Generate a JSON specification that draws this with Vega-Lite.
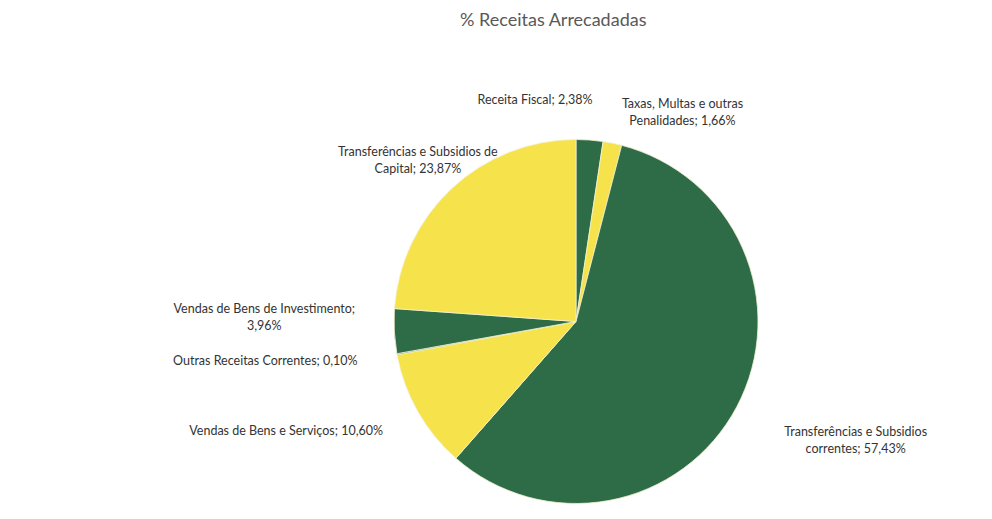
{
  "$schema": "https://vega.github.io/schema/vega-lite/v6.json",
  "autosize": {"type": "fit", "contains": "padding"},
  "width": 992,
  "height": 519,
  "padding": {"left": 160, "right": 0, "top": 66, "bottom": 0},
  "background": "#ffffff",
  "title": {
    "text": "% Receitas Arrecadadas",
    "font": "Lato",
    "fontSize": 18,
    "fontWeight": "normal",
    "color": "#595959",
    "anchor": "start",
    "dx": 300,
    "offset": 40
  },
  "data": {
    "values": [
      {"ordem": 1, "categoria": "Receita Fiscal", "valor": 2.38, "rotulo": "Receita Fiscal; 2,38%"},
      {"ordem": 2, "categoria": "Taxas, Multas e outras Penalidades", "valor": 1.66, "rotulo": "Taxas, Multas e outras\nPenalidades; 1,66%"},
      {"ordem": 3, "categoria": "Transferências e Subsidios correntes", "valor": 57.43, "rotulo": "Transferências e Subsidios\ncorrentes; 57,43%"},
      {"ordem": 4, "categoria": "Vendas de Bens e Serviços", "valor": 10.60, "rotulo": "Vendas de Bens e Serviços; 10,60%"},
      {"ordem": 5, "categoria": "Outras Receitas Correntes", "valor": 0.10, "rotulo": "Outras Receitas Correntes; 0,10%"},
      {"ordem": 6, "categoria": "Vendas de Bens de Investimento", "valor": 3.96, "rotulo": "Vendas de Bens de Investimento;\n3,96%"},
      {"ordem": 7, "categoria": "Transferências e Subsidios de Capital", "valor": 23.87, "rotulo": "Transferências e Subsidios de\nCapital; 23,87%"}
    ]
  },
  "encoding": {
    "theta": {"field": "valor", "type": "quantitative", "stack": true},
    "order": {"field": "ordem", "type": "quantitative"}
  },
  "layer": [
    {
      "mark": {"type": "arc", "outerRadius": 182, "stroke": "#f4f1d0", "strokeWidth": 0.8},
      "encoding": {
        "color": {
          "field": "categoria",
          "type": "nominal",
          "legend": null,
          "scale": {
            "domain": ["Receita Fiscal", "Taxas, Multas e outras Penalidades", "Transferências e Subsidios correntes", "Vendas de Bens e Serviços", "Outras Receitas Correntes", "Vendas de Bens de Investimento", "Transferências e Subsidios de Capital"],
            "range": ["#2d6c47", "#f6e24a", "#2d6c47", "#f6e24a", "#2d5a3c", "#2d6c47", "#f6e24a"]
          }
        }
      }
    },
    {
      "mark": {"type": "text", "radius": 222, "align": "center", "dx": 62, "baseline": "middle", "lineBreak": "\n", "font": "Lato", "fontSize": 12.5, "color": "#333333", "lineHeight": 17},
      "encoding": {
        "text": {"condition": {"test": "datum.ordem == 2", "field": "rotulo"}, "value": ""}
      }
    },
    {
      "mark": {"type": "text", "radius": 235, "align": "center", "dx": 72, "baseline": "middle", "lineBreak": "\n", "font": "Lato", "fontSize": 12.5, "color": "#333333", "lineHeight": 17},
      "encoding": {
        "text": {"condition": {"test": "datum.ordem == 3", "field": "rotulo"}, "value": ""}
      }
    },
    {
      "mark": {"type": "text", "radius": 222, "align": "right", "baseline": "middle", "lineBreak": "\n", "font": "Lato", "fontSize": 12.5, "color": "#333333", "lineHeight": 17},
      "encoding": {
        "text": {"condition": {"test": "datum.ordem == 1 || datum.ordem == 4 || datum.ordem == 5", "field": "rotulo"}, "value": ""}
      }
    },
    {
      "mark": {"type": "text", "radius": 222, "align": "center", "dx": -90, "baseline": "middle", "dy": -24, "lineBreak": "\n", "font": "Lato", "fontSize": 12.5, "color": "#333333", "lineHeight": 17},
      "encoding": {
        "text": {"condition": {"test": "datum.ordem == 6", "field": "rotulo"}, "value": ""}
      }
    },
    {
      "mark": {"type": "text", "radius": 232, "align": "center", "baseline": "middle", "lineBreak": "\n", "font": "Lato", "fontSize": 12.5, "color": "#333333", "lineHeight": 17},
      "encoding": {
        "text": {"condition": {"test": "datum.ordem == 7", "field": "rotulo"}, "value": ""}
      }
    }
  ],
  "config": {"view": {"stroke": null}}
}
